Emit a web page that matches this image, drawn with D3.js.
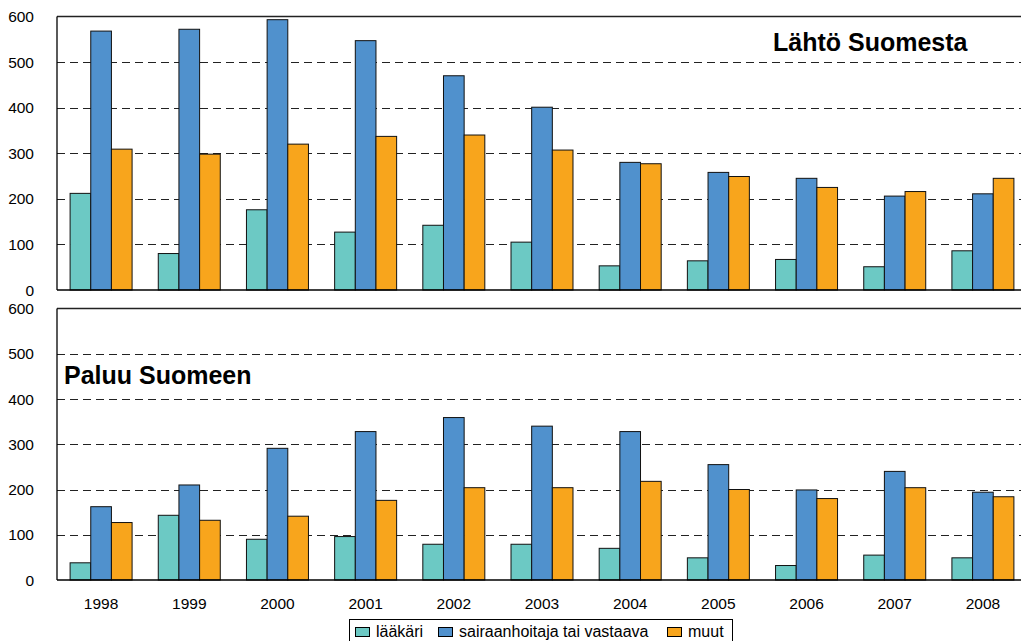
<!DOCTYPE html>
<html><head><meta charset="utf-8">
<script src="https://cdn.jsdelivr.net/npm/d3@7"></script>
<style>
html,body{margin:0;padding:0;background:#fff;}
svg{display:block;font-family:"Liberation Sans",Arial,sans-serif;}
</style></head>
<body>
<svg id="c" width="1021" height="641"></svg>
<script>
const years = ["1998","1999","2000","2001","2002","2003","2004","2005","2006","2007","2008"];
const seriesNames = ["lääkäri","sairaanhoitaja tai vastaava","muut"];
const colors = ["#6CC9C4","#5091CD","#F8A51C"];
const yTicks = [0,100,200,300,400,500,600];
// Lähtö Suomesta (departure)
const depLaakari = [212,80,176,127,142,105,53,64,67,51,86];
const depSairaanhoitaja = [568,572,593,547,470,401,280,258,245,206,211];
const depMuut = [309,298,320,337,340,307,277,249,225,216,245];
// Paluu Suomeen (return)
const retLaakari = [38,143,90,96,79,79,70,49,32,55,49];
const retSairaanhoitaja = [162,210,291,328,359,340,328,255,199,240,194];
const retMuut = [127,132,141,176,204,204,218,200,180,204,184];

const svg = d3.select("#c");
const left = 57, right = 1027;
const x = d3.scaleBand().domain(years).range([left,right]).paddingInner(0.297).paddingOuter(0.1485);
const xs = d3.scaleBand().domain([0,1,2]).range([0,x.bandwidth()]);

function panel(top, bottom, data, title, tx, ty){
  const y = d3.scaleLinear().domain([0,600]).range([bottom, top]);
  const g = svg.append("g");
  g.selectAll("line.grid").data(yTicks.filter(t=>t>0&&t<600)).enter().append("line")
    .attr("x1",left).attr("x2",right).attr("y1",d=>Math.round(y(d))+0.5).attr("y2",d=>Math.round(y(d))+0.5)
    .attr("stroke","#222").attr("stroke-width",1).attr("stroke-dasharray","8,5");
  g.append("line").attr("x1",left).attr("x2",right).attr("y1",y(600)).attr("y2",y(600))
    .attr("stroke","#222").attr("stroke-width",1.3);
  years.forEach((yr,i)=>{
    data.forEach((arr,s)=>{
      g.append("rect")
        .attr("x",x(yr)+xs(s)).attr("width",xs.bandwidth())
        .attr("y",y(arr[i])).attr("height",y(0)-y(arr[i]))
        .attr("fill",colors[s]).attr("stroke","#111").attr("stroke-width",1);
    });
  });
  g.append("line").attr("x1",left).attr("x2",right).attr("y1",y(0)).attr("y2",y(0)).attr("stroke","#000").attr("stroke-width",1.3);
  g.append("line").attr("x1",left).attr("x2",left).attr("y1",y(0)).attr("y2",y(600)).attr("stroke","#000").attr("stroke-width",1.3);
  g.selectAll("text.yt").data(yTicks).enter().append("text")
    .attr("x",34).attr("y",d=>y(d)).attr("dy","0.36em").attr("text-anchor","end")
    .attr("font-size","15.5px").attr("fill","#000").text(d=>d);
  g.append("text").attr("x",tx).attr("y",ty).attr("font-size","25px").attr("font-weight","bold").attr("fill","#000").text(title);
  return y;
}
panel(16.5, 290, [depLaakari,depSairaanhoitaja,depMuut], "Lähtö Suomesta", 773, 51);
panel(308.5, 580, [retLaakari,retSairaanhoitaja,retMuut], "Paluu Suomeen", 64, 384);

svg.selectAll("text.xl").data(years).enter().append("text")
  .attr("x",d=>x(d)+x.bandwidth()/2).attr("y",608.5).attr("text-anchor","middle")
  .attr("font-size","15.5px").attr("fill","#000").text(d=>d);

const lg = svg.append("g");
lg.append("rect").attr("x",349.5).attr("y",619.5).attr("width",383).attr("height",30).attr("fill","#fff").attr("stroke","#000").attr("stroke-width",1);
const legX = [355,438,667];
seriesNames.forEach((n,i)=>{
  lg.append("rect").attr("x",legX[i]+0.5).attr("y",627.5).attr("width",14).attr("height",9).attr("fill",colors[i]).attr("stroke","#000").attr("stroke-width",1);
  lg.append("text").attr("x",legX[i]+21).attr("y",637).attr("font-size","16px").attr("fill","#000").text(n);
});
</script>
</body></html>
